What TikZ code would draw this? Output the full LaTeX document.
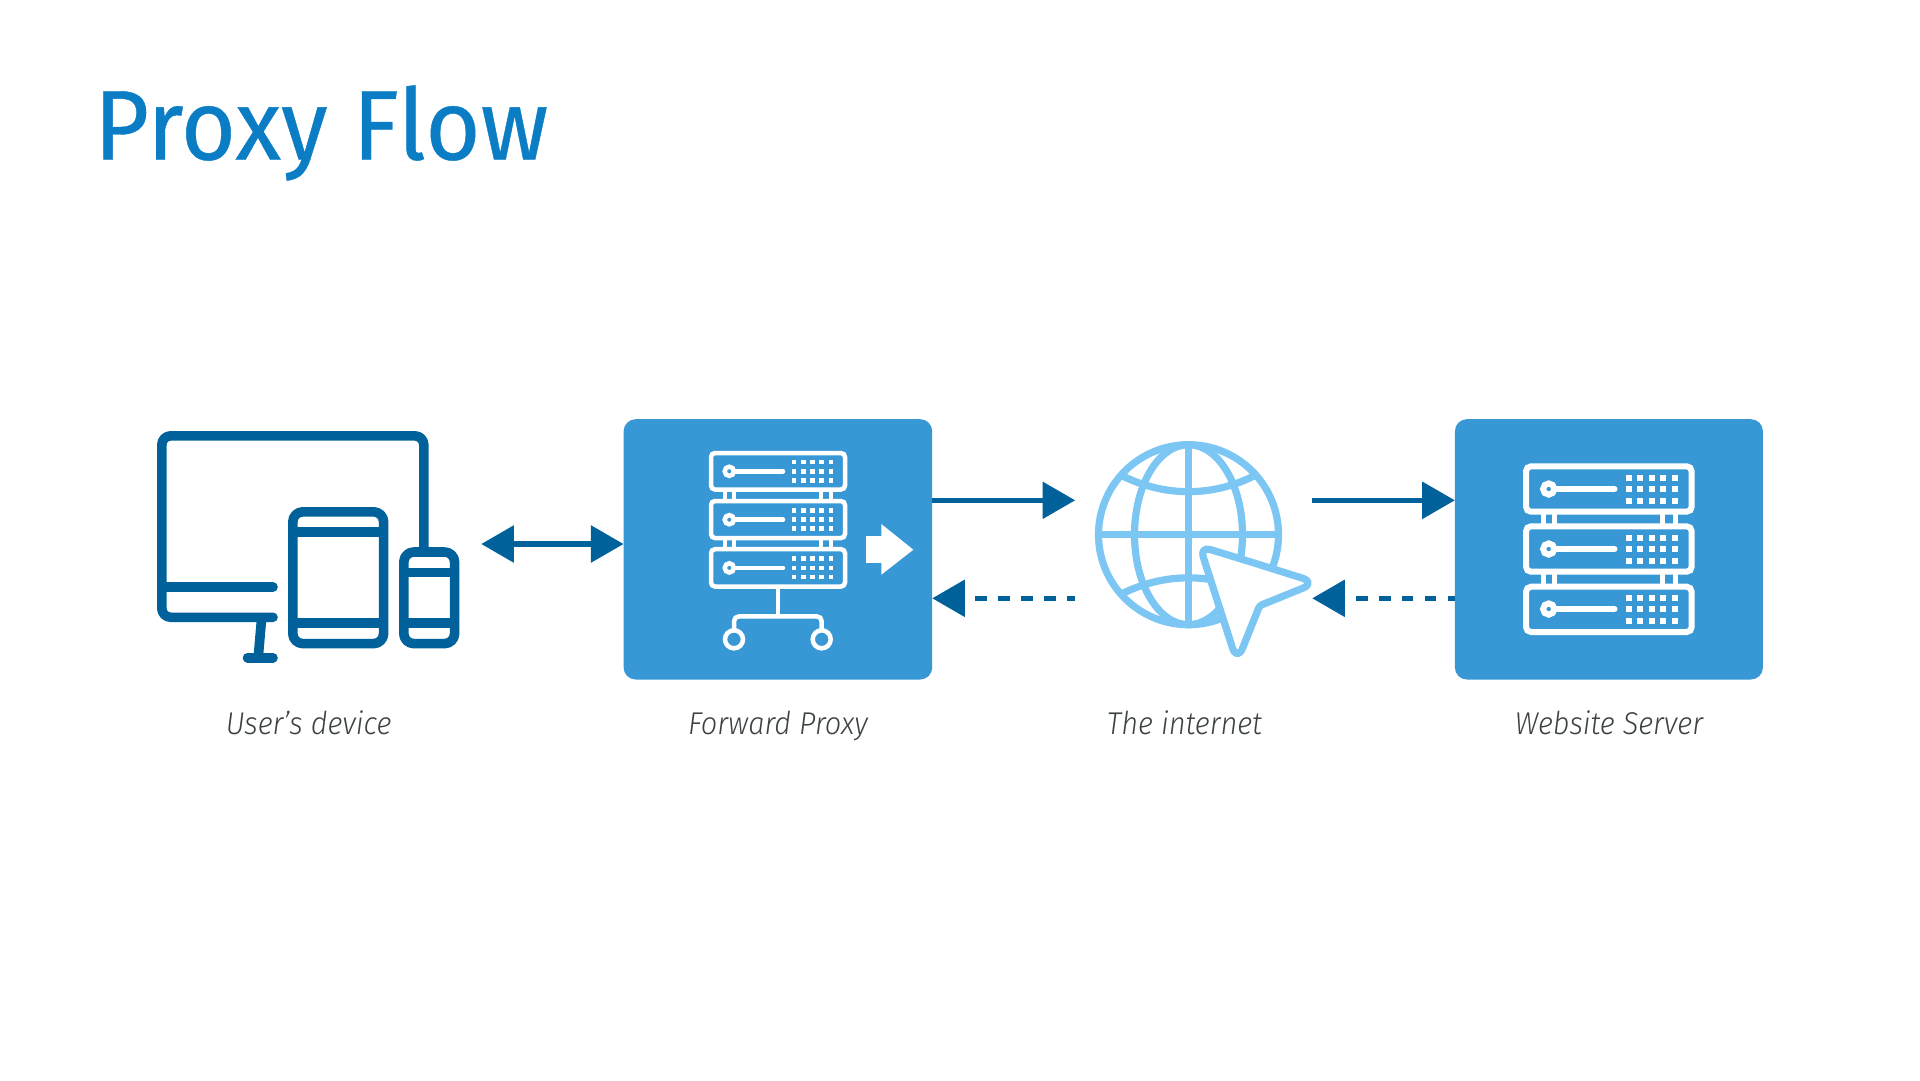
\documentclass[tikz,border=0pt]{standalone}
\usepackage{fontspec}
\usetikzlibrary{arrows.meta}
\setmainfont{Fira Sans}
\definecolor{navy}{HTML}{01619B}
\definecolor{boxblue}{HTML}{3798D5}
\definecolor{sky}{HTML}{7CC6F3}
\definecolor{titleblue}{HTML}{0B7DC4}
\definecolor{labelgray}{HTML}{3C4144}
\newfontfamily\titlefont[FakeStretch=0.955,FakeBold=0.4]{Fira Sans}
\newfontfamily\labelfont[FakeStretch=0.92,ItalicFont={Fira Sans Light Italic}]{Fira Sans Light}
\tikzset{
  panel/.style={fill=boxblue,rounded corners=12pt,draw=none,inner sep=0pt,anchor=north west},
  ghost/.style={draw=none,fill=none,inner sep=0pt,anchor=north west},
  flow/.style={draw=navy,line width=5.2pt,-{Triangle[length=32.5pt,width=37.6pt,line width=0pt,fill=navy]}},
  both/.style={draw=navy,line width=5.2pt,{Triangle[length=32.5pt,width=37.6pt,line width=0pt,fill=navy]}-{Triangle[length=32.5pt,width=37.6pt,line width=0pt,fill=navy]}},
  lbl/.style={font=\labelfont\itshape\fontsize{31.5}{36}\selectfont,text=labelgray,anchor=base},
  devstroke/.style={draw=navy,line width=9.6pt,line cap=round,line join=round},
  globestroke/.style={draw=sky,line width=7.2pt},
}
\begin{document}
\begin{tikzpicture}[x=1pt,y=-1pt]
\useasboundingbox[fill=white] (0,0) rectangle (1920,1080);
% title
\node[anchor=base west,inner sep=0pt,text=titleblue,font=\titlefont\fontsize{99}{120}\selectfont] (title) at (94,159.5) {Proxy Flow};
% panels
\node[panel,minimum width=308.6pt,minimum height=260.3pt] (proxy) at (623.4,419) {};
\node[panel,minimum width=308pt,minimum height=260.3pt] (server) at (1454.7,419) {};
\node[ghost,minimum width=324pt,minimum height=260.3pt] (device) at (157,419) {};
\node[ghost,minimum width=237pt,minimum height=260.3pt] (internet) at (1075,419) {};
% device icon
\draw[devstroke,rounded corners=9pt] (273,617.3) -- (161.8,617.3) -- (161.8,435.8) -- (423.8,435.8) -- (423.8,552);
\draw[devstroke] (161.8,587) -- (273,587);
\draw[devstroke,line cap=butt] (261.7,617.3) -- (258.2,657.7);
\draw[devstroke] (247.5,657.7) -- (273,657.7);
\draw[devstroke,rounded corners=10pt] (292.8,511.8) rectangle (383.6,643.6);
\draw[devstroke,line cap=butt] (292.8,532) -- (383.6,532) (292.8,623) -- (383.6,623);
\draw[devstroke,rounded corners=10pt] (403.8,552) rectangle (454.6,643.6);
\draw[devstroke,line cap=butt] (403.8,572.3) -- (454.6,572.3) (403.8,623) -- (454.6,623);
% proxy rack
\foreach \ya/\yb/\yk in {453/489.5/471.3, 501/538/519.7, 549.2/586.5/567.9}{
  \draw[white,line width=4.5pt,rounded corners=4pt] (711,\ya) rectangle (845,\yb);
  \draw[white,line width=4.5pt] (729.3,\yk) circle[radius=4.6pt];
  \draw[white,line width=4.5pt,line cap=round] (734,\yk) -- (783,\yk);
  \foreach \gx in {794,803.3,812.7,821.7,831}
    \foreach \gd in {-9.3,0,9}
      \fill[white] ({\gx-2.4},{\yk+\gd-2.4}) rectangle ++(4.8,4.8);
}
\foreach \vx in {725,734.3,821.3,830.7}
  \draw[white,line width=3.8pt] (\vx,489.5) -- (\vx,501) (\vx,538) -- (\vx,549.2);
\draw[white,line width=4.5pt] (778,586.5) -- (778,616.3);
\draw[white,line width=4.5pt,rounded corners=5pt] (734,630) -- (734,616.3) -- (821.7,616.3) -- (821.7,630);
\draw[white,line width=4.5pt] (734,639.3) circle[radius=9pt] (821.7,639.3) circle[radius=9pt];
\fill[white] (865.7,535.7) rectangle (882,563);
\fill[white] (881.3,524) -- (913.3,549.7) -- (881.3,574.7) -- cycle;
% server rack
\foreach \ya/\yb/\yk in {466.3/511.7/489, 526.3/571.7/549, 586.7/632/609}{
  \draw[white,line width=6pt,rounded corners=5pt] (1526,\ya) rectangle (1691.7,\yb);
  \draw[white,line width=6pt] (1548.7,\yk) circle[radius=5.6pt];
  \draw[white,line width=6pt,line cap=round] (1554,\yk) -- (1614.5,\yk);
  \foreach \gx in {1629,1640,1651.7,1663,1674.7}
    \foreach \gd in {-11.4,0,11.6}
      \fill[white] ({\gx-3},{\yk+\gd-3}) rectangle ++(6,6);
}
\foreach \vx in {1543,1554.7,1662.7,1675}
  \draw[white,line width=5pt] (\vx,511.7) -- (\vx,526.3) (\vx,571.7) -- (\vx,586.7);
% globe
\draw[globestroke] (1188.5,534.7) circle[radius=90pt];
\draw[globestroke] (1188.5,534.7) ellipse[x radius=54pt,y radius=90pt];
\draw[globestroke] (1188.5,444.7) -- (1188.5,624.7);
\draw[globestroke] (1098.5,534.7) -- (1278.5,534.7);
\draw[globestroke] (1122,475.7) .. controls (1165,497) and (1212,497) .. (1254.5,475.7);
\draw[globestroke] (1122,593.7) .. controls (1165,572.5) and (1212,572.5) .. (1254.5,593.7);
% cursor
\draw[draw=sky,fill=white,line width=7.2pt,line join=round]
  (1260,564.8) [rounded corners=15pt] -- (1316.5,582.6) [rounded corners=2.5pt] -- (1259.6,605.7) [rounded corners=15pt] -- (1237,662) [rounded corners=11pt] -- (1199.8,546.3) -- cycle;
% connectors
\coordinate (yboth) at (0,544);
\coordinate (yout) at (0,500.3);
\coordinate (yback) at (0,598.3);
\draw[both] (device.east |- yboth) -- (proxy.west |- yboth);
\draw[flow] (proxy.east |- yout) -- (internet.west |- yout);
\draw[flow] (internet.east |- yout) -- (server.west |- yout);
\draw[flow,dash pattern=on 11.5pt off 11.4pt,dash phase=3.5pt] (internet.west |- yback) -- (proxy.east |- yback);
\draw[flow,dash pattern=on 11.5pt off 11.4pt,dash phase=4.5pt] (server.west |- yback) -- (internet.east |- yback);
% labels
\node[lbl] (l1) at (308.6,734) {User’s device};
\node[lbl] (l2) at (778,734) {Forward Proxy};
\node[lbl] (l3) at (1184.5,734) {The internet};
\node[lbl] (l4) at (1609,734) {Website Server};
\end{tikzpicture}
\end{document}
